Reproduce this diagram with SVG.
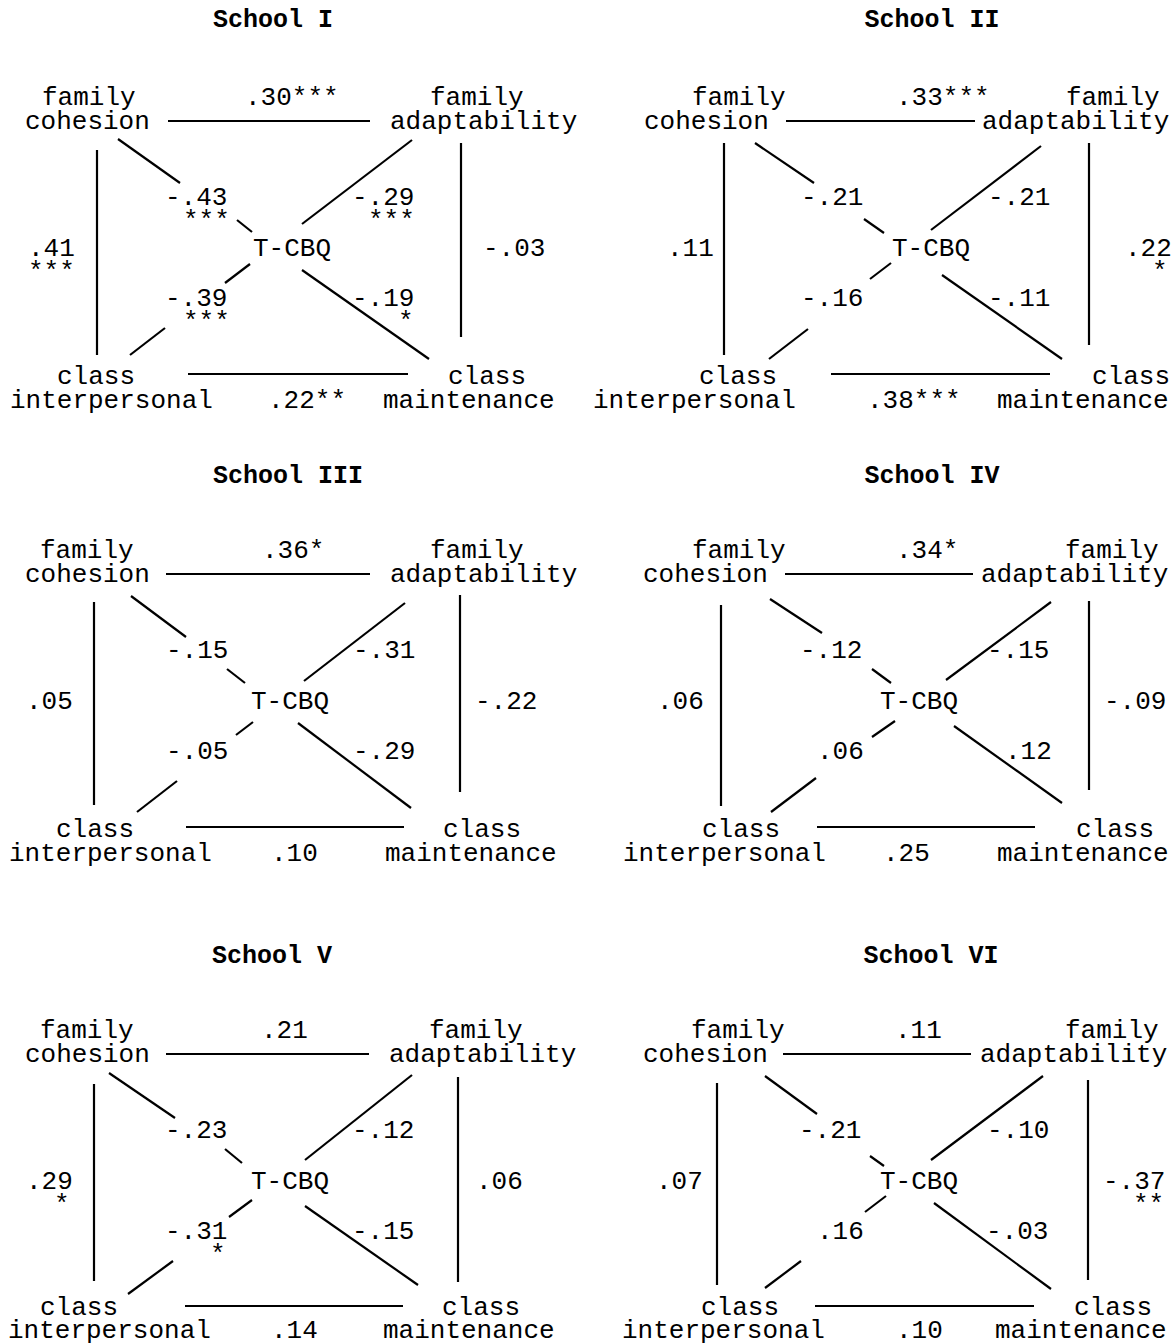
<svg xmlns="http://www.w3.org/2000/svg" width="1176" height="1344" viewBox="0 0 1176 1344">
<style>
text{font-family:"Liberation Mono","DejaVu Sans Mono",monospace;font-size:26px;fill:#000}
.h{font-weight:bold;font-size:25px;text-anchor:middle}
.c line{stroke:#000;stroke-width:2.2;stroke-linecap:butt}
</style>
<rect width="1176" height="1344" fill="#fff"/>

<!-- School I -->
<g id="school-1">
<text class="h" x="273" y="27">School I</text>
<g id="s1-fc"><text x="42" y="105">family</text><text x="25" y="129">cohesion</text></g>
<g id="s1-fa"><text x="430" y="105">family</text><text x="390" y="129">adaptability</text></g>
<g id="s1-ci"><text x="57" y="384">class</text><text x="10" y="408">interpersonal</text></g>
<g id="s1-cm"><text x="448" y="384">class</text><text x="383" y="408">maintenance</text></g>
<g id="s1-t"><text x="253" y="256">T-CBQ</text></g>
<g id="s1-conn" class="c">
<line x1="168" y1="121" x2="370" y2="121"/>
<line x1="97" y1="150" x2="97" y2="355"/>
<line x1="461" y1="143" x2="461" y2="337"/>
<line x1="188" y1="374" x2="408" y2="374"/>
<line x1="118" y1="139" x2="180" y2="183"/><line x1="237" y1="220" x2="252" y2="232"/>
<line x1="412" y1="140" x2="302" y2="224"/>
<line x1="250" y1="264" x2="225" y2="283"/><line x1="165" y1="328" x2="130" y2="355"/>
<line x1="302" y1="270" x2="429" y2="359"/>
<text x="245" y="105">.30***</text>
<text x="28" y="256">.41</text><text x="28" y="279">***</text>
<text x="483" y="256">-.03</text>
<text x="165" y="205">-.43</text><text x="183" y="228">***</text>
<text x="352" y="205">-.29</text><text x="368" y="228">***</text>
<text x="165" y="306">-.39</text><text x="183" y="329">***</text>
<text x="352" y="306">-.19</text><text x="398" y="329">*</text>
<text x="268" y="408">.22**</text>
</g>
</g>

<!-- School II -->
<g id="school-2">
<text class="h" x="932" y="27">School II</text>
<g id="s2-fc"><text x="692" y="105">family</text><text x="644" y="129">cohesion</text></g>
<g id="s2-fa"><text x="1066" y="105">family</text><text x="982" y="129">adaptability</text></g>
<g id="s2-ci"><text x="699" y="384">class</text><text x="593" y="408">interpersonal</text></g>
<g id="s2-cm"><text x="1092" y="384">class</text><text x="997" y="408">maintenance</text></g>
<g id="s2-t"><text x="892" y="256">T-CBQ</text></g>
<g id="s2-conn" class="c">
<line x1="786" y1="121" x2="975" y2="121"/>
<line x1="724" y1="143" x2="724" y2="355"/>
<line x1="1089" y1="143" x2="1089" y2="345"/>
<line x1="831" y1="374" x2="1050" y2="374"/>
<line x1="755" y1="143" x2="814" y2="183"/><line x1="864" y1="219" x2="884" y2="233"/>
<line x1="1041" y1="146" x2="931" y2="230"/>
<line x1="891" y1="263" x2="870" y2="279"/><line x1="808" y1="329" x2="769" y2="359"/>
<line x1="942" y1="275" x2="1062" y2="359"/>
<text x="896" y="105">.33***</text>
<text x="667" y="256">.11</text>
<text x="1125" y="256">.22</text><text x="1152" y="279">*</text>
<text x="801" y="205">-.21</text>
<text x="988" y="205">-.21</text>
<text x="801" y="306">-.16</text>
<text x="988" y="306">-.11</text>
<text x="867" y="408">.38***</text>
</g>
</g>

<!-- School III -->
<g id="school-3" transform="translate(0,453)">
<text class="h" x="288" y="30">School III</text>
<g id="s3-fc"><text x="40" y="105">family</text><text x="25" y="129">cohesion</text></g>
<g id="s3-fa"><text x="430" y="105">family</text><text x="390" y="129">adaptability</text></g>
<g id="s3-ci"><text x="56" y="384">class</text><text x="9" y="408">interpersonal</text></g>
<g id="s3-cm"><text x="443" y="384">class</text><text x="385" y="408">maintenance</text></g>
<g id="s3-t"><text x="251" y="256">T-CBQ</text></g>
<g id="s3-conn" class="c">
<line x1="166" y1="121" x2="370" y2="121"/>
<line x1="94" y1="149" x2="94" y2="352"/>
<line x1="460" y1="142" x2="460" y2="339"/>
<line x1="186" y1="374" x2="404" y2="374"/>
<line x1="131" y1="143" x2="186" y2="184"/><line x1="227" y1="216" x2="245" y2="230"/>
<line x1="405" y1="150" x2="304" y2="228"/>
<line x1="253" y1="269" x2="236" y2="282"/><line x1="177" y1="328" x2="137" y2="359"/>
<line x1="298" y1="270" x2="411" y2="355"/>
<text x="262" y="105">.36*</text>
<text x="26" y="256">.05</text>
<text x="475" y="256">-.22</text>
<text x="166" y="205">-.15</text>
<text x="353" y="205">-.31</text>
<text x="166" y="306">-.05</text>
<text x="353" y="306">-.29</text>
<text x="271" y="408">.10</text>
</g>
</g>

<!-- School IV -->
<g id="school-4" transform="translate(0,453)">
<text class="h" x="932" y="30">School IV</text>
<g id="s4-fc"><text x="692" y="105">family</text><text x="643" y="129">cohesion</text></g>
<g id="s4-fa"><text x="1065" y="105">family</text><text x="981" y="129">adaptability</text></g>
<g id="s4-ci"><text x="702" y="384">class</text><text x="623" y="408">interpersonal</text></g>
<g id="s4-cm"><text x="1076" y="384">class</text><text x="997" y="408">maintenance</text></g>
<g id="s4-t"><text x="880" y="256">T-CBQ</text></g>
<g id="s4-conn" class="c">
<line x1="785" y1="121" x2="973" y2="121"/>
<line x1="721" y1="152" x2="721" y2="353"/>
<line x1="1089" y1="148" x2="1089" y2="337"/>
<line x1="817" y1="374" x2="1035" y2="374"/>
<line x1="770" y1="146" x2="822" y2="180"/><line x1="872" y1="216" x2="891" y2="230"/>
<line x1="1051" y1="149" x2="946" y2="227"/>
<line x1="895" y1="268" x2="872" y2="284"/><line x1="816" y1="325" x2="771" y2="359"/>
<line x1="954" y1="273" x2="1062" y2="350"/>
<text x="896" y="105">.34*</text>
<text x="657" y="256">.06</text>
<text x="1104" y="256">-.09</text>
<text x="800" y="205">-.12</text>
<text x="987" y="205">-.15</text>
<text x="817" y="306">.06</text>
<text x="1005" y="306">.12</text>
<text x="883" y="408">.25</text>
</g>
</g>

<!-- School V -->
<g id="school-5" transform="translate(0,933)">
<text class="h" x="272" y="30">School V</text>
<g id="s5-fc"><text x="40" y="105">family</text><text x="25" y="129">cohesion</text></g>
<g id="s5-fa"><text x="429" y="105">family</text><text x="389" y="129">adaptability</text></g>
<g id="s5-ci"><text x="40" y="382">class</text><text x="8" y="405">interpersonal</text></g>
<g id="s5-cm"><text x="442" y="382">class</text><text x="383" y="405">maintenance</text></g>
<g id="s5-t"><text x="251" y="256">T-CBQ</text></g>
<g id="s5-conn" class="c">
<line x1="166" y1="121" x2="369" y2="121"/>
<line x1="94" y1="151" x2="94" y2="348"/>
<line x1="458" y1="144" x2="458" y2="349"/>
<line x1="185" y1="373" x2="403" y2="373"/>
<line x1="109" y1="140" x2="175" y2="185"/><line x1="225" y1="216" x2="242" y2="230"/>
<line x1="412" y1="142" x2="305" y2="227"/>
<line x1="252" y1="267" x2="229" y2="284"/><line x1="173" y1="328" x2="128" y2="361"/>
<line x1="305" y1="273" x2="418" y2="352"/>
<text x="261" y="105">.21</text>
<text x="26" y="256">.29</text><text x="54" y="279">*</text>
<text x="476" y="256">.06</text>
<text x="165" y="205">-.23</text>
<text x="352" y="205">-.12</text>
<text x="165" y="306">-.31</text><text x="210" y="329">*</text>
<text x="352" y="306">-.15</text>
<text x="271" y="405">.14</text>
</g>
</g>

<!-- School VI -->
<g id="school-6" transform="translate(0,933)">
<text class="h" x="931" y="30">School VI</text>
<g id="s6-fc"><text x="691" y="105">family</text><text x="643" y="129">cohesion</text></g>
<g id="s6-fa"><text x="1065" y="105">family</text><text x="980" y="129">adaptability</text></g>
<g id="s6-ci"><text x="701" y="382">class</text><text x="622" y="405">interpersonal</text></g>
<g id="s6-cm"><text x="1074" y="382">class</text><text x="995" y="405">maintenance</text></g>
<g id="s6-t"><text x="880" y="256">T-CBQ</text></g>
<g id="s6-conn" class="c">
<line x1="783" y1="121" x2="971" y2="121"/>
<line x1="717" y1="150" x2="717" y2="352"/>
<line x1="1088" y1="147" x2="1088" y2="347"/>
<line x1="815" y1="373" x2="1034" y2="373"/>
<line x1="765" y1="143" x2="817" y2="181"/><line x1="870" y1="223" x2="884" y2="233"/>
<line x1="1043" y1="143" x2="931" y2="227"/>
<line x1="886" y1="263" x2="865" y2="279"/><line x1="801" y1="328" x2="765" y2="355"/>
<line x1="934" y1="270" x2="1051" y2="356"/>
<text x="895" y="105">.11</text>
<text x="656" y="256">.07</text>
<text x="1103" y="256">-.37</text><text x="1133" y="279">**</text>
<text x="799" y="205">-.21</text>
<text x="987" y="205">-.10</text>
<text x="817" y="306">.16</text>
<text x="986" y="306">-.03</text>
<text x="896" y="405">.10</text>
</g>
</g>
</svg>
